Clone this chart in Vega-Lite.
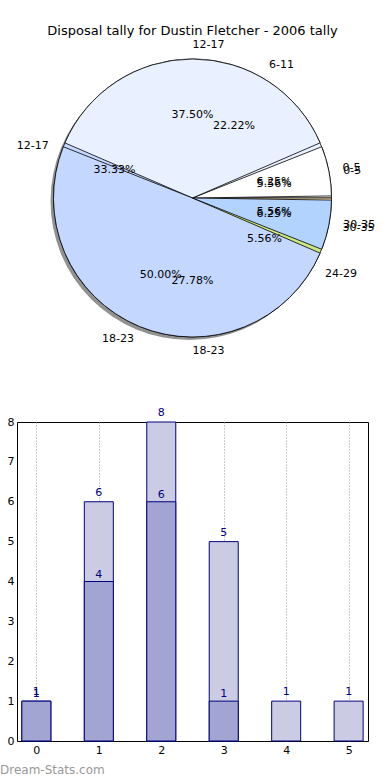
{
  "$schema": "https://vega.github.io/schema/vega-lite/v6.json",
  "padding": {"left": -1, "top": 25, "right": 0, "bottom": 0},
  "spacing": 50,
  "config": {"font": "DejaVu Sans", "view": {"stroke": null}},
  "datasets": {
    "pie1": [
      {"i": 0, "g": "0-5", "n": 1, "pct": "6.25%"},
      {"i": 1, "g": "12-17", "n": 6, "pct": "37.50%"},
      {"i": 2, "g": "18-23", "n": 8, "pct": "50.00%"},
      {"i": 3, "g": "30-35", "n": 1, "pct": "6.25%"}
    ],
    "pie2": [
      {"i": 0, "g": "0-5", "n": 1, "pct": "5.56%"},
      {"i": 1, "g": "6-11", "n": 4, "pct": "22.22%"},
      {"i": 2, "g": "12-17", "n": 6, "pct": "33.33%"},
      {"i": 3, "g": "18-23", "n": 5, "pct": "27.78%"},
      {"i": 4, "g": "24-29", "n": 1, "pct": "5.56%"},
      {"i": 5, "g": "30-35", "n": 1, "pct": "5.56%"}
    ],
    "bars": [
      {"x": 0, "total": 1, "part": 1},
      {"x": 1, "total": 6, "part": 4},
      {"x": 2, "total": 8, "part": 6},
      {"x": 3, "total": 5, "part": 1},
      {"x": 4, "total": 1},
      {"x": 5, "total": 1}
    ]
  },
  "vconcat": [
    {
      "width": 351,
      "height": 300,
      "title": {"text": "Disposal tally for Dustin Fletcher - 2006 tally", "fontSize": 13, "fontWeight": "normal", "color": "#000", "anchor": "middle", "offset": 1},
      "layer": [
        {
          "data": {"values": [{"k": 1}]},
          "mark": {"type": "arc", "outerRadius": 139, "fill": "#777", "opacity": 0.8, "xOffset": -3, "yOffset": 3},
          "encoding": {}
        },
        {
          "data": {"name": "pie2"},
          "mark": {"type": "arc", "outerRadius": 139, "stroke": "#000", "strokeWidth": 0.8},
          "encoding": {
            "theta": {"field": "n", "type": "quantitative", "stack": true, "scale": {"range": [1.5708, -4.7124]}},
            "order": {"field": "i"},
            "color": {"field": "i", "type": "nominal", "legend": null, "scale": {"domain": [0, 1, 2, 3, 4, 5], "range": ["#ffffff", "#e9f0ff", "#c4d7ff", "#b3d3ff", "#cde87e", "#ffe4b3"]}}
          }
        },
        {
          "data": {"name": "pie1"},
          "mark": {"type": "arc", "outerRadius": 139, "stroke": "#000", "strokeWidth": 0.8, "padAngle": 0.03},
          "encoding": {
            "theta": {"field": "n", "type": "quantitative", "stack": true, "scale": {"range": [1.5708, -4.7124]}},
            "order": {"field": "i"},
            "color": {"field": "i", "type": "nominal", "legend": null}
          }
        },
        {
          "data": {"name": "pie2"},
          "mark": {"type": "text", "radius": 153, "fontSize": 11, "color": "#000", "baseline": "middle", "align": {"expr": "cos(PI*(datum.n_start+datum.n_end)/18) > -0.000001 ? 'left' : 'right'"}},
          "encoding": {
            "theta": {"field": "n", "type": "quantitative", "stack": true, "scale": {"range": [1.5708, -4.7124]}},
            "order": {"field": "i"},
            "text": {"field": "g"}
          }
        },
        {
          "data": {"name": "pie2"},
          "mark": {"type": "text", "radius": 83, "fontSize": 11, "color": "#000", "baseline": "middle"},
          "encoding": {
            "theta": {"field": "n", "type": "quantitative", "stack": true, "scale": {"range": [1.5708, -4.7124]}},
            "order": {"field": "i"},
            "text": {"field": "pct"}
          }
        },
        {
          "data": {"name": "pie1"},
          "mark": {"type": "text", "radius": 153, "fontSize": 11, "color": "#000", "baseline": "middle", "align": {"expr": "cos(PI*(datum.n_start+datum.n_end)/16) > -0.000001 ? 'left' : 'right'"}},
          "encoding": {
            "theta": {"field": "n", "type": "quantitative", "stack": true, "scale": {"range": [1.5708, -4.7124]}},
            "order": {"field": "i"},
            "text": {"field": "g"}
          }
        },
        {
          "data": {"name": "pie1"},
          "mark": {"type": "text", "radius": 83, "fontSize": 11, "color": "#000", "baseline": "middle"},
          "encoding": {
            "theta": {"field": "n", "type": "quantitative", "stack": true, "scale": {"range": [1.5708, -4.7124]}},
            "order": {"field": "i"},
            "text": {"field": "pct"}
          }
        }
      ],
      "resolve": {"scale": {"theta": "independent"}}
    },
    {
      "width": 351,
      "height": 319,
      "view": {"stroke": "#000", "strokeWidth": 1},
      "title": {"text": "Dream-Stats.com", "orient": "bottom", "anchor": "start", "frame": "bounds", "fontSize": 12, "fontWeight": "normal", "color": "#999", "offset": 10, "dx": -7},
      "data": {"name": "bars"},
      "encoding": {
        "x": {"field": "x", "type": "quantitative", "scale": {"domain": [-0.23, 5.23], "nice": false, "zero": false},
          "axis": {"values": [0, 1, 2, 3, 4, 5], "tickCount": 6, "title": null, "grid": true, "gridDash": [1, 2], "gridColor": "#999", "ticks": false, "labelPadding": 3, "labelFontSize": 11, "labelColor": "#000", "domain": false, "format": "d"}}
      },
      "layer": [
        {
          "mark": {"type": "bar", "width": 29, "fill": "#cbcce4", "stroke": "#000080", "strokeWidth": 1},
          "encoding": {
            "y": {"field": "total", "type": "quantitative", "scale": {"domain": [0, 8], "nice": false},
              "axis": {"values": [0, 1, 2, 3, 4, 5, 6, 7, 8], "tickCount": 9, "labelOverlap": false, "title": null, "grid": false, "ticks": false, "labelPadding": 3, "labelFontSize": 11, "labelColor": "#000", "domain": false}}
          }
        },
        {
          "mark": {"type": "bar", "width": 29, "fill": "#a2a5d1", "stroke": "#000080", "strokeWidth": 1},
          "encoding": {"y": {"field": "part", "type": "quantitative", "axis": {"values": [0, 1, 2, 3, 4, 5, 6, 7, 8], "tickCount": 9, "labelOverlap": false, "title": null, "grid": false, "ticks": false, "labelPadding": 3, "labelFontSize": 11, "labelColor": "#000", "domain": false}}}
        },
        {
          "mark": {"type": "text", "baseline": "bottom", "dy": -4, "fontSize": 11, "color": "#000080"},
          "encoding": {"y": {"field": "total", "type": "quantitative"}, "text": {"field": "total"}}
        },
        {
          "mark": {"type": "text", "baseline": "bottom", "dy": -2, "fontSize": 11, "color": "#000080"},
          "encoding": {"y": {"field": "part", "type": "quantitative"}, "text": {"field": "part"}}
        }
      ]
    }
  ]
}
